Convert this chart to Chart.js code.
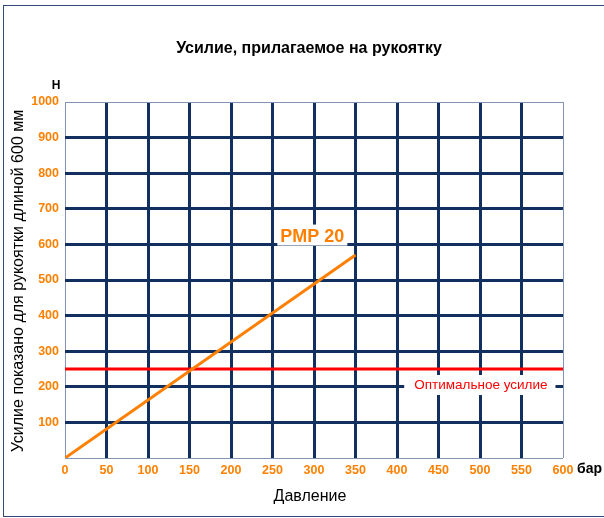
<!DOCTYPE html>
<html>
<head>
<meta charset="utf-8">
<script src="https://cdn.jsdelivr.net/npm/chart.js@4"></script>
<style>
  body { margin: 0; background: #fff; }
</style>
</head>
<body>
<canvas id="forceChart" width="604" height="518"></canvas>
<script>
// data
const pressure = [0, 350];          // бар
const force = [0, 570];             // Н
const optimumPressure = [0, 600];
const optimumForce = [250, 250];
const xTicks = [0, 50, 100, 150, 200, 250, 300, 350, 400, 450, 500, 550, 600];
const yTicks = [0, 100, 200, 300, 400, 500, 600, 700, 800, 900, 1000];

const navy = '#12305f';
const thin = '#8393b5';
const orange = '#ff8000';
const font = '"Liberation Sans", Arial, sans-serif';

// frame, titles and the two labels on the plot
const extras = {
    id: 'extras',
    beforeDraw(chart) {
        const c = chart.ctx;
        c.save();
        c.fillStyle = '#fff';
        c.fillRect(0, 0, chart.width, chart.height);
        c.strokeStyle = '#33497a';
        c.lineWidth = 1;
        c.strokeRect(3.5, 5.5, 700, 511);
        c.restore();
    },
    afterDatasetsDraw(chart) {
        const c = chart.ctx;
        const x = chart.scales.x, y = chart.scales.y;
        c.save();
        c.textBaseline = 'middle';

        c.fillStyle = '#000';
        c.textAlign = 'center';
        c.font = 'bold 16px ' + font;
        c.fillText('Усилие, прилагаемое на рукоятку', 309, 49);

        c.font = 'bold 12px ' + font;
        c.fillText('Н', 56, 86);
        c.textAlign = 'left';
        c.font = 'bold 14px ' + font;
        c.fillText('бар', 577, 469);

        c.textAlign = 'center';
        c.font = '16px ' + font;
        c.fillText('Давление', 310, 497);

        c.save();
        c.translate(19, 281);
        c.rotate(-Math.PI / 2);
        c.font = '16px ' + font;
        c.fillText('Усилие показано для рукоятки длиной 600 мм', 0, 0);
        c.restore();

        // PMP 20 label
        let px = x.getPixelForValue(298), py = y.getPixelForValue(622);
        c.font = 'bold 18px ' + font;
        let w = c.measureText('PMP 20').width;
        c.fillStyle = '#fff';
        c.fillRect(px - w / 2 - 3, py - 12, w + 6, 21);
        c.fillStyle = orange;
        c.fillText('PMP 20', px, py);

        // optimum label
        px = x.getPixelForValue(501);
        py = y.getPixelForValue(205);
        c.font = '13.5px ' + font;
        w = c.measureText('Оптимальное усилие').width;
        c.fillStyle = '#fff';
        c.fillRect(px - w / 2 - 10, py - 10, w + 18, 20);
        c.fillStyle = '#ff0000';
        c.fillText('Оптимальное усилие', px, py);
        c.restore();
    }
};

function gridColor(ctx, max) {
    const v = ctx.tick ? ctx.tick.value : 0;
    return (v === 0 || v === max) ? thin : navy;
}
function gridWidth(ctx, max) {
    const v = ctx.tick ? ctx.tick.value : 0;
    return (v === 0 || v === max) ? 1 : 3;
}

const ctx = document.getElementById('forceChart').getContext('2d');
const forceChart = new Chart(ctx, {
    type: 'line',
    data: {
        datasets: [{
            label: 'PMP 20',
            data: pressure.map((p, i) => ({ x: p, y: force[i] })),
            borderColor: orange,
            borderWidth: 3,
            pointRadius: 0,
            tension: 0
        }, {
            label: 'Оптимальное усилие',
            data: optimumPressure.map((p, i) => ({ x: p, y: optimumForce[i] })),
            borderColor: '#ff0000',
            borderWidth: 3,
            pointRadius: 0,
            tension: 0
        }]
    },
    options: {
        responsive: false,
        animation: false,
        devicePixelRatio: 1,
        layout: { padding: { top: 102, right: 41, left: 0, bottom: 0 } },
        plugins: {
            legend: { display: false },
            tooltip: { enabled: false }
        },
        scales: {
            x: {
                type: 'linear',
                min: 0,
                max: 600,
                afterBuildTicks: s => { s.ticks = xTicks.map(v => ({ value: v })); },
                afterFit: s => { s.height = 60; },
                border: { display: false },
                grid: {
                    drawTicks: false,
                    color: c => gridColor(c, 600),
                    lineWidth: c => gridWidth(c, 600)
                },
                ticks: {
                    padding: 5,
                    color: orange,
                    maxRotation: 0,
                    font: { family: font, size: 12.5, weight: 'bold' }
                }
            },
            y: {
                min: 0,
                max: 1000,
                afterBuildTicks: s => { s.ticks = yTicks.map(v => ({ value: v })); },
                afterFit: s => { s.width = 65; },
                border: { display: false },
                grid: {
                    drawTicks: false,
                    color: c => gridColor(c, 1000),
                    lineWidth: c => gridWidth(c, 1000)
                },
                ticks: {
                    padding: 6,
                    color: orange,
                    callback: v => v === 0 ? '' : v,
                    font: { family: font, size: 12.5, weight: 'bold' }
                }
            }
        }
    },
    plugins: [extras]
});
</script>
</body>
</html>
